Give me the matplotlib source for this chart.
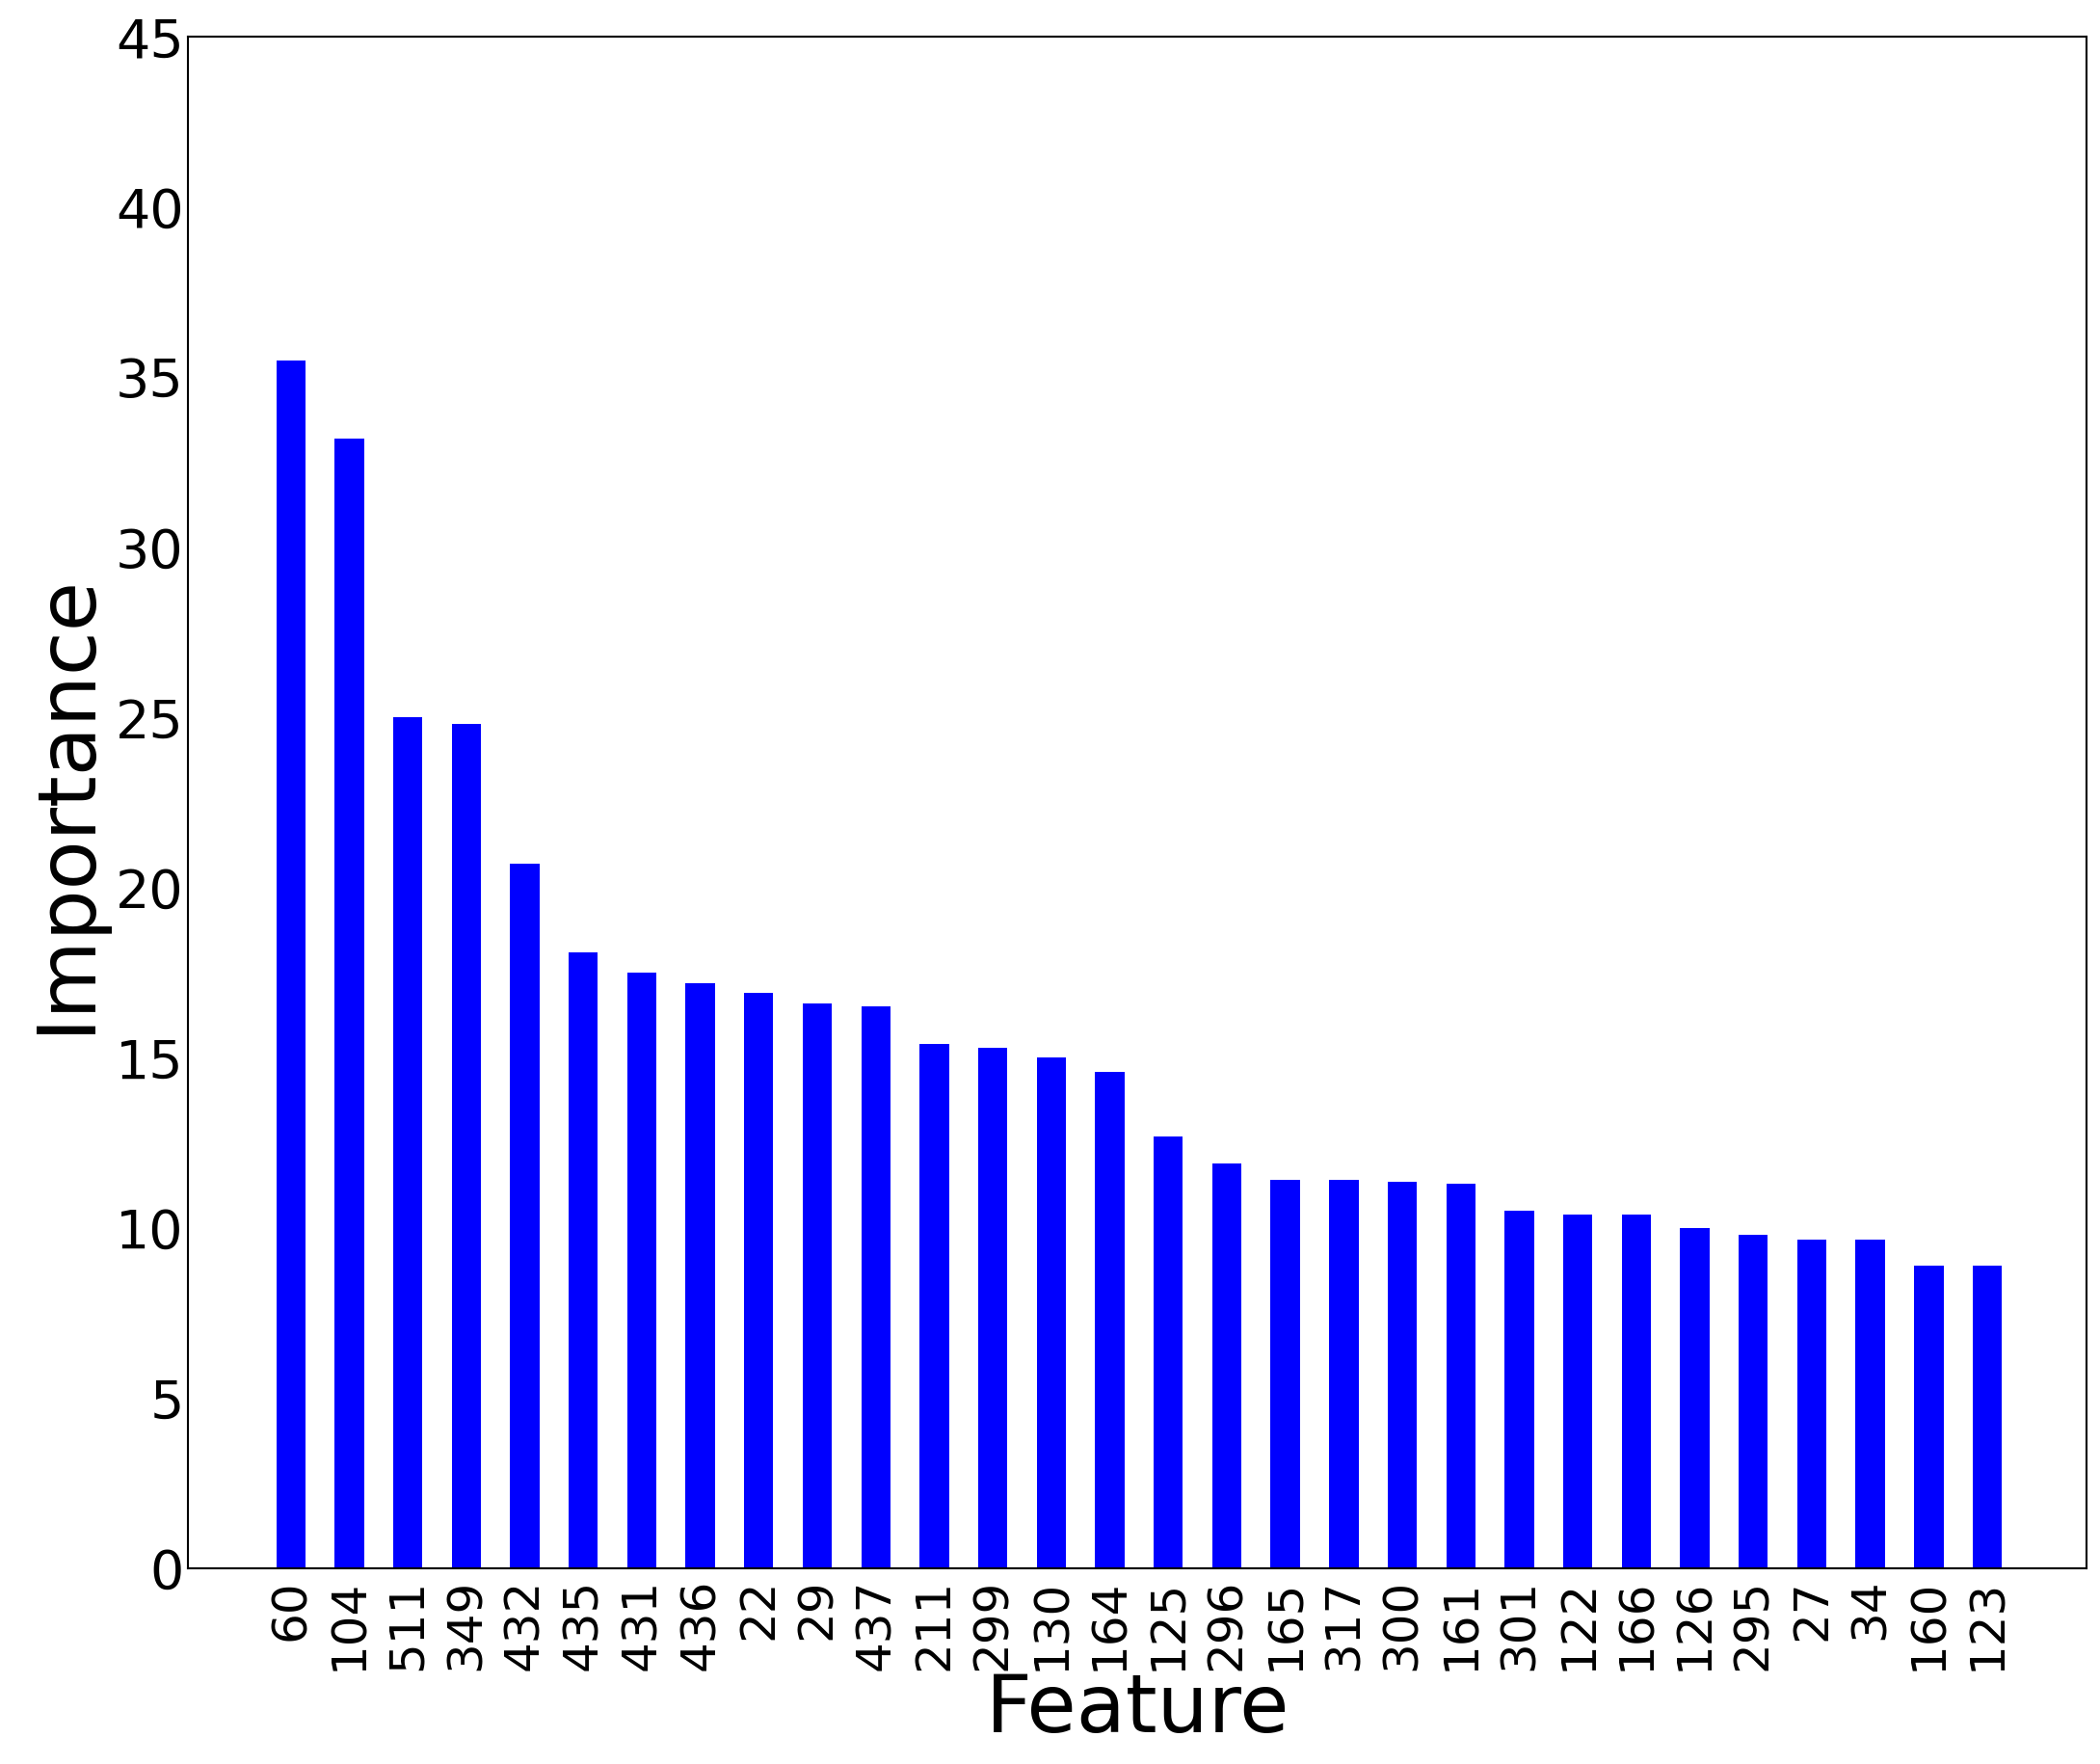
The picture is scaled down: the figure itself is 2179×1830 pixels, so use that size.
import matplotlib
matplotlib.use("Agg")
import matplotlib.pyplot as plt
import numpy as np

features = ["60","104","511","349","432","435","431","436","22","29","437","211","299","130","164",
            "125","296","165","317","300","161","301","122","166","126","295","27","34","160","123"]
importance = [35.5,33.2,25.0,24.8,20.7,18.1,17.5,17.2,16.9,16.6,16.5,15.4,15.3,15.0,14.6,
              12.7,11.9,11.4,11.4,11.35,11.3,10.5,10.4,10.4,10.0,9.8,9.65,9.65,8.9,8.9]

fig = plt.figure(figsize=(21.79, 18.3), dpi=100)
ax = fig.add_axes([0.0897, 0.111, 0.904, 0.868])
x = np.arange(len(features))
ax.bar(x, importance, width=0.5, color="#0000ff")
ax.set_xlim(-1.75, 30.7)
ax.set_ylim(0, 45)
ax.set_xticks(x)
ax.set_xticklabels(features, rotation=90, fontsize=36)
ax.set_yticks(range(0, 46, 5))
ax.tick_params(axis="y", labelsize=40, direction="in", length=0)
ax.tick_params(axis="x", direction="in", length=0, pad=8)
ax.set_xlabel("Feature", fontsize=60, labelpad=0)
ax.set_ylabel("Importance", fontsize=60, labelpad=8)
for s in ax.spines.values():
    s.set_linewidth(1.5)
fig.savefig("out.png", dpi=100)
